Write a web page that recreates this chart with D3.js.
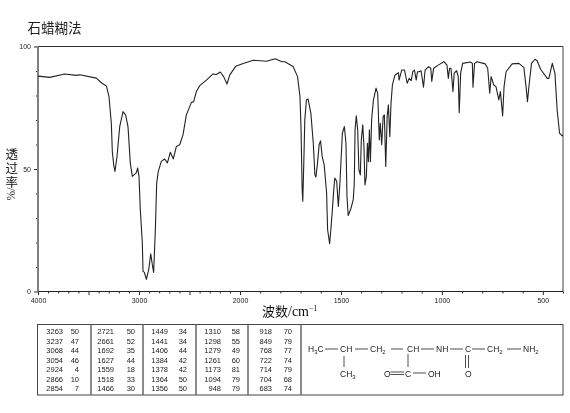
<!DOCTYPE html>
<html><head><meta charset="utf-8">
<script src="https://cdn.jsdelivr.net/npm/d3@7"></script>
<style>html,body{margin:0;padding:0;background:#fff}svg{display:block}</style></head>
<body><svg id="c" width="570" height="413"></svg>
<script>
const wavenumbers=[4000,3884,3736,3620,3587,3422,3373,3323,3297,3274,3264,3250,3238,3218,3191,3158,3132,3109,3086,3066,3027,3013,3000,2987,2967,2960,2947,2927,2904,2884,2868,2855,2838,2825,2809,2779,2746,2719,2690,2660,2630,2597,2564,2531,2482,2459,2432,2399,2333,2267,2234,2195,2162,2129,2102,2043,1984,1934,1868,1826,1793,1778,1737,1715,1703,1698,1692,1689,1684,1679,1671,1663,1649,1637,1629,1624,1616,1608,1601,1593,1583,1571,1566,1556,1550,1543,1535,1530,1521,1513,1505,1493,1483,1475,1470,1464,1450,1439,1434,1430,1424,1417,1411,1404,1399,1392,1386,1381,1374,1369,1364,1359,1354,1348,1339,1326,1318,1310,1305,1298,1291,1285,1278,1271,1265,1258,1252,1245,1232,1215,1212,1199,1185,1172,1162,1152,1144,1136,1127,1121,1113,1103,1091,1083,1066,1055,1050,1041,1016,990,975,968,962,955,945,939,927,919,914,907,897,859,849,846,838,826,785,773,763,756,743,732,718,710,699,692,682,652,619,594,583,576,569,556,539,528,511,478,470,453,440,429,417,404,400];
const transmittance=[87.9,87.4,88.8,88.2,88.5,87.1,85.2,83.9,79.5,68.7,57,51.5,49,55,67.3,73.4,72,67.3,52.4,47,48.4,50.4,47,33.4,19.8,8.2,7.8,5,8.9,15.4,10.9,7.8,25.2,44.3,49,53.1,54.1,52.5,56.8,54.1,59.2,59.9,64,72.1,77.1,77.5,81.6,84,86.3,88.8,88.6,89.6,87.7,84.7,88.3,91.9,93.1,94.4,94,95,93.8,93.8,91.8,87.7,79.6,67.3,41.5,36.8,52.4,70,78.2,78.6,72.8,60.5,47.6,46.7,52.4,59.9,61.5,55.1,51.7,40.2,25.2,19.5,25.2,32.7,42.2,46.3,45,34.7,44.3,64.6,67.3,60.5,38.8,31,34,37.5,44,66,71.7,66,49.7,47.6,61.9,68,59.2,43.5,47,60.5,53,66,53,70,78.2,83,80.9,61.9,68.7,59.9,71.4,72.1,51,71.4,76.2,63.2,76.8,84.3,88.4,89.3,86.3,90.4,90.4,85,87,86.1,89.7,90.4,86.3,89.7,89.7,90.1,83.4,90.4,91.8,91.1,85.7,91.1,92.5,93.8,92.5,87,91.1,91.1,81.6,89.1,90.1,87.7,73,89.1,93.1,93.7,93.1,83.4,93.1,93.8,92.9,91.1,80.9,87.7,84.3,83.6,78.2,81.6,71.7,83.6,89.7,92.9,93.1,91.5,83.6,77.5,83.6,93.1,94.8,94.2,90.7,87,87,93.1,89.1,74.1,64.6,63.5,63.8];
const xMajor=[4000,3000,2000,1500,1000,500];
const xMinor=[3900,3800,3700,3600,3400,3300,3200,3100,2900,2800,2700,2600,2400,2300,2200,2100,1900,1800,1700,1600,1400,1300,1200,1100,900,800,700,600,400];
const xUnlabelled=[3500,2500];
const yMajor=[0,50,100];
const yMinor=[10,20,30,40,60,70,80,90];
const peakWave=[[3263,3237,3068,3054,2924,2866,2854],[2721,2661,1692,1627,1559,1518,1466],[1449,1441,1406,1384,1378,1364,1356],[1310,1298,1279,1261,1173,1094,948],[918,849,768,722,714,704,683]];
const peakT=[[50,47,44,46,4,10,7],[50,52,35,44,18,33,30],[34,34,44,42,42,50,50],[58,55,49,60,81,79,79],[70,79,77,74,79,68,74]];

const root=d3.select("#c");
root.append("defs").append("filter").attr("id","soft").attr("x","-5%").attr("y","-5%").attr("width","110%").attr("height","110%")
  .append("feGaussianBlur").attr("stdDeviation",0.35);
const svg=root.append("g").attr("filter","url(#soft)");
svg.append("rect").attr("width",570).attr("height",413).attr("fill","#fff");
const ink="#2a2a2a";
const x=d3.scaleLinear().domain([4000,2000,400]).range([38,240,563]);
const y=d3.scaleLinear().domain([0,100]).range([291.5,46.5]);
const small="'Liberation Sans',Arial,sans-serif";
const cjk="'Noto Sans CJK SC',sans-serif";
const serif="'Liberation Serif',serif";

const g=svg.append("g");
function styleAxis(sel){sel.select(".domain").remove();sel.selectAll("line").attr("stroke",ink);sel.selectAll("text").attr("font-family",small).attr("font-size",7).attr("fill","#222");}
g.append("g").attr("transform","translate(0,291.5)").call(d3.axisBottom(x).tickValues(xMinor).tickSize(2).tickFormat("")).call(styleAxis);
g.append("g").attr("transform","translate(0,291.5)").call(d3.axisBottom(x).tickValues(xUnlabelled).tickSize(3.5).tickFormat("")).call(styleAxis);
g.append("g").attr("transform","translate(0,291.5)").call(d3.axisBottom(x).tickValues(xMajor).tickSize(3.5).tickPadding(3).tickFormat(d3.format("d"))).call(styleAxis);
g.append("g").attr("transform","translate(38,0)").call(d3.axisLeft(y).tickValues(yMinor).tickSize(2).tickFormat("")).call(styleAxis);
g.append("g").attr("transform","translate(38,0)").call(d3.axisLeft(y).tickValues(yMajor).tickSize(4).tickPadding(3).tickFormat(d3.format("d"))).call(styleAxis);

const fr=(x1,y1,x2,y2,c,w)=>svg.append("line").attr("x1",x1).attr("y1",y1).attr("x2",x2).attr("y2",y2).attr("stroke",c).attr("stroke-width",w);
fr(x(4000),y(100),x(400),y(100),"#333",1);
fr(x(400),y(100),x(400),y(0),"#444",1);
fr(x(4000),y(0),x(400),y(0),"#222",1);
fr(x(4000),y(100),x(4000),y(0),"#808080",2);

const pts=wavenumbers.map((w,i)=>[w,transmittance[i]]);
svg.append("path").datum(pts)
 .attr("d",d3.line().x(d=>x(d[0])).y(d=>y(d[1])))
 .attr("fill","none").attr("stroke","#222").attr("stroke-width",1.1).attr("stroke-linejoin","round");

svg.append("text").attr("x",27.5).attr("y",33).attr("font-family",cjk).attr("font-size",13.5).attr("fill","#222").text("石蜡糊法");
svg.append("text").attr("x","5.5 5.5 5.5").attr("y","158.5 172.5 186.5").attr("font-family",cjk).attr("font-size",12.5).attr("fill","#111").text("透过率");
svg.append("text").attr("transform","translate(15,194) rotate(-90)").attr("text-anchor","middle").attr("font-family",serif).attr("font-size",11.5).attr("fill","#222").text("%/");
const xl=svg.append("text").attr("x",262).attr("y",315.5).attr("fill","#111");
xl.append("tspan").attr("font-family",cjk).attr("font-size",13).text("波数");
xl.append("tspan").attr("font-family",serif).attr("font-size",14).text("/cm");
xl.append("tspan").attr("font-family",serif).attr("font-size",8).attr("dy",-5).text("−1");

const tx0=37.5,ty0=324.5,ty1=395;
const dividers=[91,143,196,248,301];
svg.append("rect").attr("x",tx0).attr("y",ty0).attr("width",563-tx0).attr("height",ty1-ty0).attr("fill","none").attr("stroke","#444").attr("stroke-width",1);
dividers.forEach(d=>fr(d,ty0,d,ty1,"#666",1.5));
const colW=[63,114,168,221,272],colT=[79,135,187,240,292];
const rowY=d3.scaleLinear().domain([0,6]).range([334,391]);
peakWave.forEach((col,i)=>col.forEach((w,j)=>{
  svg.append("text").attr("x",colW[i]).attr("y",rowY(j)).attr("text-anchor","end").attr("font-family",small).attr("font-size",7.5).attr("fill","#222").text(w);
  svg.append("text").attr("x",colT[i]).attr("y",rowY(j)).attr("text-anchor","end").attr("font-family",small).attr("font-size",7.5).attr("fill","#222").text(peakT[i][j]);
}));

function chem(xp,yp,parts){const t=svg.append("text").attr("x",xp).attr("y",yp).attr("font-family",small).attr("font-size",8.5).attr("fill","#222");
  parts.forEach(p=>{t.append("tspan").attr("font-size",p[1]?6:8.5).attr("dy",p[1]?2:(p[2]?-2:0)).text(p[0]);});}
chem(308,352,[["H"],["3",1],["C",0,1]]);
chem(340,352,[["CH"]]);
chem(370,352,[["CH"],["2",1]]);
chem(407,352,[["CH"]]);
chem(436,352,[["NH"]]);
chem(465,352,[["C"]]);
chem(487,352,[["CH"],["2",1]]);
chem(523,352,[["NH"],["2",1]]);
chem(340,376.5,[["CH"],["3",1]]);
chem(384,376.5,[["O"]]);
chem(405,376.5,[["C"]]);
chem(428,376.5,[["OH"]]);
chem(465,376.5,[["O"]]);
const b=(a,c,d,e)=>fr(a,c,d,e,"#222",.8);
b(325,349,338,349);b(355,349,368,349);b(391,349,403,349);b(421,349,434,349);b(450,349,463,349);b(472,349,485,349);b(507,349,521,349);
b(344,356,344,367);b(408,354,408,367);
b(390.5,372,404,372);b(390.5,374.5,404,374.5);b(413,373,426,373);
b(465.5,355,465.5,368);b(468.5,355,468.5,368);
</script></body></html>
